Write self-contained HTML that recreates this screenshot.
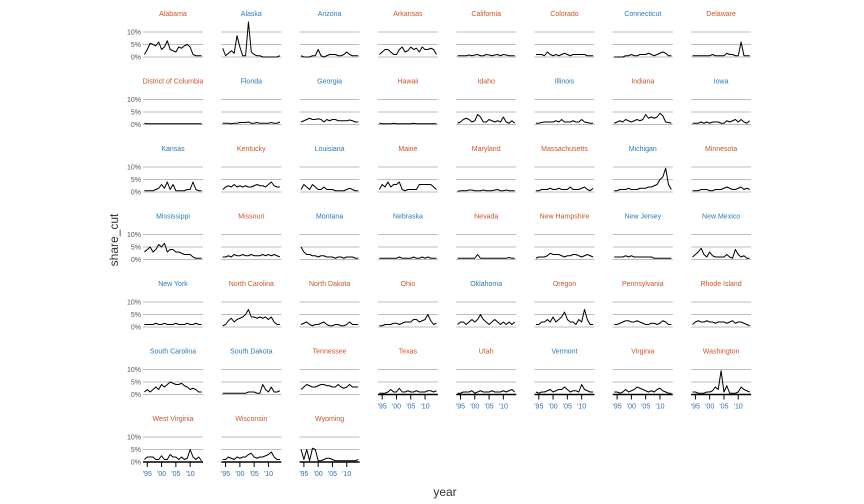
<!DOCTYPE html>
<html><head><meta charset="utf-8"><style>
html,body{margin:0;padding:0;background:#fff;}
svg{display:block;font-family:"Liberation Sans",sans-serif;}
</style></head><body>
<svg id="chart" width="864" height="504" viewBox="0 0 864 504">
<text x="0" y="0" transform="translate(118,240) rotate(-90)" text-anchor="middle" font-size="12" fill="#333">share_cut</text>
<text x="445" y="496" text-anchor="middle" font-size="12" fill="#333">year</text>
</svg>
<script>
const states = ["Alabama","Alaska","Arizona","Arkansas","California","Colorado","Connecticut","Delaware","District of Columbia","Florida","Georgia","Hawaii","Idaho","Illinois","Indiana","Iowa","Kansas","Kentucky","Louisiana","Maine","Maryland","Massachusetts","Michigan","Minnesota","Mississippi","Missouri","Montana","Nebraska","Nevada","New Hampshire","New Jersey","New Mexico","New York","North Carolina","North Dakota","Ohio","Oklahoma","Oregon","Pennsylvania","Rhode Island","South Carolina","South Dakota","Tennessee","Texas","Utah","Vermont","Virginia","Washington","West Virginia","Wisconsin","Wyoming"];
const party = "RBBRRRBRRBBRRBRBBRBRRRBRBRBBRRBBBRRRBRRRBBRRRBRRRRR";
const years = [1994,1995,1996,1997,1998,1999,2000,2001,2002,2003,2004,2005,2006,2007,2008,2009,2010,2011,2012,2013,2014];
const yTicks = [0,5,10];
const yTickLabels = ["0%","5%","10%"];
const xTicks = [1995,2000,2005,2010];
const xTickLabels = ["'95","'00","'05","'10"];
const values = [
[1,3,5.5,5,4.5,6,3,4,6.5,3,2.5,2,4,3.5,4.5,5,4,1,0.5,0.5,0.5],
[3.5,0.5,1.5,2.5,1.5,8.5,4,0.5,0.5,14,2,1,0.5,0.5,0,0,0,0,0,0,0.5],
[0.5,0,0,0,0.5,0.5,3,0.5,0,0.5,1,1,1,0.5,0.5,1,2,1,0.5,0.5,0.5],
[1,2,3,3,2,1,1,3,4,2,2.5,4,3,3.5,2,4,3,3,3.5,3,1],
[0.5,0.5,0.5,0.5,0.8,0.5,0.8,1,0.5,0.5,1,0.8,0.5,0.8,1,0.5,1,0.8,0.5,0.5,0.5],
[1,1,1,0.5,2,1,0.5,1,0.5,1,1.5,1,0.5,1,1,1,1,1,0.5,0.5,0.5],
[0,0,0,0,0.5,0.5,1,0.5,0.5,1,1,1,1.5,1,0.5,1,1.5,2,1.5,0.5,0.5],
[0.5,0.5,0.5,0.5,0.5,0.5,0.5,1,0.5,0.5,0.5,0.5,1.5,1,1,0.5,0.5,6,0.5,0.5,0.5],
[0.5,0.3,0.3,0.3,0.3,0.3,0.3,0.3,0.3,0.3,0.3,0.3,0.3,0.3,0.3,0.3,0.3,0.3,0.3,0.3,0.3],
[0.5,0.5,0.5,0.3,0.5,0.5,0.8,0.8,0.8,1,0.5,0.5,0.8,0.5,0.5,0.5,0.5,0.8,0.5,0.5,1],
[1,1.5,2,2.5,2,2,2.3,2,1,2,1.5,2,2,1.5,1.5,1.5,1.5,1.8,1.5,1,1],
[0.5,0.3,0.3,0.3,0.3,0.5,0.3,0.3,0.3,0.3,0.3,0.3,0.5,0.3,0.3,0.3,0.3,0.3,0.3,0.3,0.3],
[0.5,1,2,2.5,2,1,1.5,4,3,1,1,2,1.5,1,1.5,1,3,1,0.5,1.5,0.5],
[0.5,0.5,0.8,1,1,1,1,1.5,1,2,1,1,1,1.5,1,1,2,1,0.8,0.5,0.5],
[0.5,1,1.5,1,2,1.5,1,1.5,2,1.5,2,4,2.5,3,2.5,3,4.5,3.5,1,0.8,0.5],
[0.5,0.5,0.5,1,0.5,1,0.5,1,1,1,0.5,0.5,1.5,1,1.5,2,1,2,1,0.5,1.5],
[0.5,0.5,0.5,0.5,1,1.5,3,1.5,4,1,3,0.5,0.5,0.5,0.5,1,1,4,1,0.5,0.5],
[1,2,2.5,2,3,2,2.5,2,2.5,2,2,2.5,3,2.5,2.5,2,3,4,2.5,2,2],
[1,3,2,1,3,2,1,1,2,1,1,1,0.5,0.5,0.5,0.5,1,1.5,1,0.5,0.5],
[1,3,2,4,2,3,3,4,1,0.5,1,1,1,1,3,3,3,3,3,2,1],
[0.3,0.5,0.5,0.5,0.8,0.8,0.5,0.5,0.5,0.8,0.5,0.5,0.5,0.8,1,0.5,0.5,0.8,0.5,0.5,0.5],
[0.5,0.5,1,1,1,1.5,1,1,1.5,1,1,1,2,1,1,1,1.5,2,1,0.5,1.5],
[0.5,0.5,1,1,1,1.5,1,1,1,1.5,1.5,1.5,2,2,2.5,3,5,6,9.5,3,1],
[0.5,0.5,0.5,1,1,1,0.5,0.5,1,1,1,1.5,2,1.5,1,1,1.5,2,1,1.5,1],
[3,4,5,3,4,6,5,6.5,3,4,4,3,3,2.5,2,2,2,1,0.5,0.5,0.5],
[1,1,1.5,1,2,1.5,1.5,2,1.5,1.5,2,1.5,1.5,1.5,2,1.5,2,1.5,2,1.5,1],
[5,3,2,2,1.5,1.5,1,1.5,1.5,1,1,1,0.5,1,1,0.5,1,1,1,0.5,0.5],
[0.5,0.5,0.5,0.5,0.5,0.5,0.5,1,0.5,0.5,0.5,0.5,1,0.5,0.5,1,0.5,1,0.5,0.5,0.5],
[0.5,0.5,0.5,0.5,0.5,0.5,0.5,2,0.5,0.5,0.5,0.5,0.5,0.5,0.5,0.5,0.5,0.5,0.8,0.5,0.5],
[0.5,1,1,1,1.5,2.5,2,2,2,1.5,1,1.5,1.5,2,2,1.5,1,1.5,2,1.5,1],
[1,1,1,1,1.5,1,1.5,1,1,1,1,1,1,1,0.5,0.5,0.5,0.5,0.5,0.5,0.5],
[1,2,3,4.5,2,1,3,1.5,1,1,1,1,2,1,0.5,4,2,1,1.5,0.5,0.5],
[1,1,1,1,1.5,1,1,1.5,1,1,1,1.5,1,1,1,1.5,1,1,1.5,1,1],
[0.5,1,2.5,3.5,2,3,3.5,4,5,7,4,4,3.5,4,3.5,4,3,4,2,1,1],
[1,1.5,2,1,0.5,1,1,1.5,2,1,0.5,0.5,1,1,0.5,0.5,1,2,1,1,1],
[0.5,0.5,1,1,1,1.5,1.5,1,1.5,2,2,2,3,3,2,2.5,3,5,2.5,1,1.5],
[1,2,2,1,2,3,2,3,5,3,2,1,2,3,2,1,2,1,2,1,2],
[1,1,2,2,3,2,4,2,3,4,6,3,2,2,1,3,2,7,3,1,1],
[1,1,1.5,2,2.5,2.5,2,2,2.5,2,1.5,1,1,1.5,1.5,1,1.5,2.5,2,1,1],
[1,2,2.5,2,2,2.5,2,2,1.5,2,2,2,1.5,2,2.5,1.5,2,2,1.5,1,0.5],
[1,2,1,2,3,2,4,3,4,5,4.5,4,4,4.5,3.5,3,2,2.5,2,1,1],
[0.5,0.5,0.5,0.5,0.5,0.5,0.5,0.5,0.5,1,1,1,0.5,0.5,4,2,1,3,1,1,1.5],
[2,3,4,3.5,3,3,3.5,4,4,3.5,3.5,3,3,4,3,2.5,3,4,3,3,3],
[0.5,0.5,0.5,1,2,1,1,2.5,1,1,1.5,1,1,1.5,1,1,1,1.5,1.5,1,1.5],
[0.5,0.5,1,1,1,1.5,0.5,1,1.5,1,1,1,1.5,1,1,1,1.5,1,1.5,2,1],
[1,0.5,1,1,1.5,2,1,1.5,2,2,3,2,1,1.5,1.5,1,4,2,1.5,1,1],
[1,1,0.5,1,2,1,1.5,2,3,2.5,2,1.5,1,1.5,1,2,2.5,1.5,1,0.5,0.5],
[1,1,0.5,0.5,0.5,1,1,1.5,3,2,9.5,1,3.5,0.5,0.5,0.5,1,3,2,1.5,1],
[1,2,2,2,1,1,2.5,1,1,3,2,2,1,2,1,1.5,5,2,1,2,0.5],
[1,1,2,1.5,1,2,1.5,2,2,3,3.5,2,1.5,2,2,2.5,3,4,2,1,1],
[5,1,5,0.5,5.5,5,0.5,0.5,1,1.5,1.5,1,0.5,0.5,0.5,0.5,0.5,0.5,0.5,0.5,1]
];
const NS="http://www.w3.org/2000/svg";
const svg=document.getElementById('chart');
const PW=60, PITCHX=78.3, PITCHY=67.5, LEFT0=143, BASE0=57;
function xScale(left,yr){return left+(yr-1993.5)/21*PW;}
function yScale(base,v){return base-v*2.5;}
function mk(tag,attrs,parent){const e=document.createElementNS(NS,tag);for(const k in attrs)e.setAttribute(k,attrs[k]);(parent||svg).appendChild(e);return e;}
const n=states.length;
states.forEach((st,i)=>{
  const r=Math.floor(i/8), c=i%8;
  const left=LEFT0+c*PITCHX, base=BASE0+r*PITCHY;
  const g=mk('g',{});
  
  
  const t=mk('text',{x:left+PW/2,y:base-41,'text-anchor':'middle','font-size':'7',fill:party[i]==='R'?'#c8552a':'#2c7bb6'},g);
  t.textContent=st;
  
  
  yTicks.forEach((v,k)=>{
    const l=mk('line',{x1:left,x2:left+PW,y1:yScale(base,v),y2:yScale(base,v),stroke:'#bdbdbd','stroke-width':'1'},g);
    
    
    if(c===0){
      const tl=mk('text',{x:left-2,y:yScale(base,v)+2.5,'text-anchor':'end','font-size':'7',fill:'#555'},g);
      tl.textContent=yTickLabels[k];
      
      
    }
  });
  const hasAxis = i+8>=n;
  if(hasAxis){
    const ax=mk('line',{x1:left,x2:left+PW,y1:base,y2:base,stroke:'#000','stroke-width':'1.5'},g);
    
    
    xTicks.forEach((yr,k)=>{
      const tk=mk('line',{x1:xScale(left,yr),x2:xScale(left,yr),y1:base,y2:base+5,stroke:'#000','stroke-width':'1'},g);
      
      
      const tl=mk('text',{x:xScale(left,yr),y:base+14,'text-anchor':'middle','font-size':'7',fill:'#2c6fb0'},g);
      tl.textContent=xTickLabels[k];
      
      
    });
  }
  const d=values[i].map((v,k)=>(k?'L':'M')+xScale(left,years[k]).toFixed(2)+','+yScale(base,v).toFixed(2)).join('');
  const p=mk('path',{d:d,fill:'none',stroke:'#000','stroke-width':'1','stroke-linejoin':'round'},g);
  
  
});
</script>
</body></html>
